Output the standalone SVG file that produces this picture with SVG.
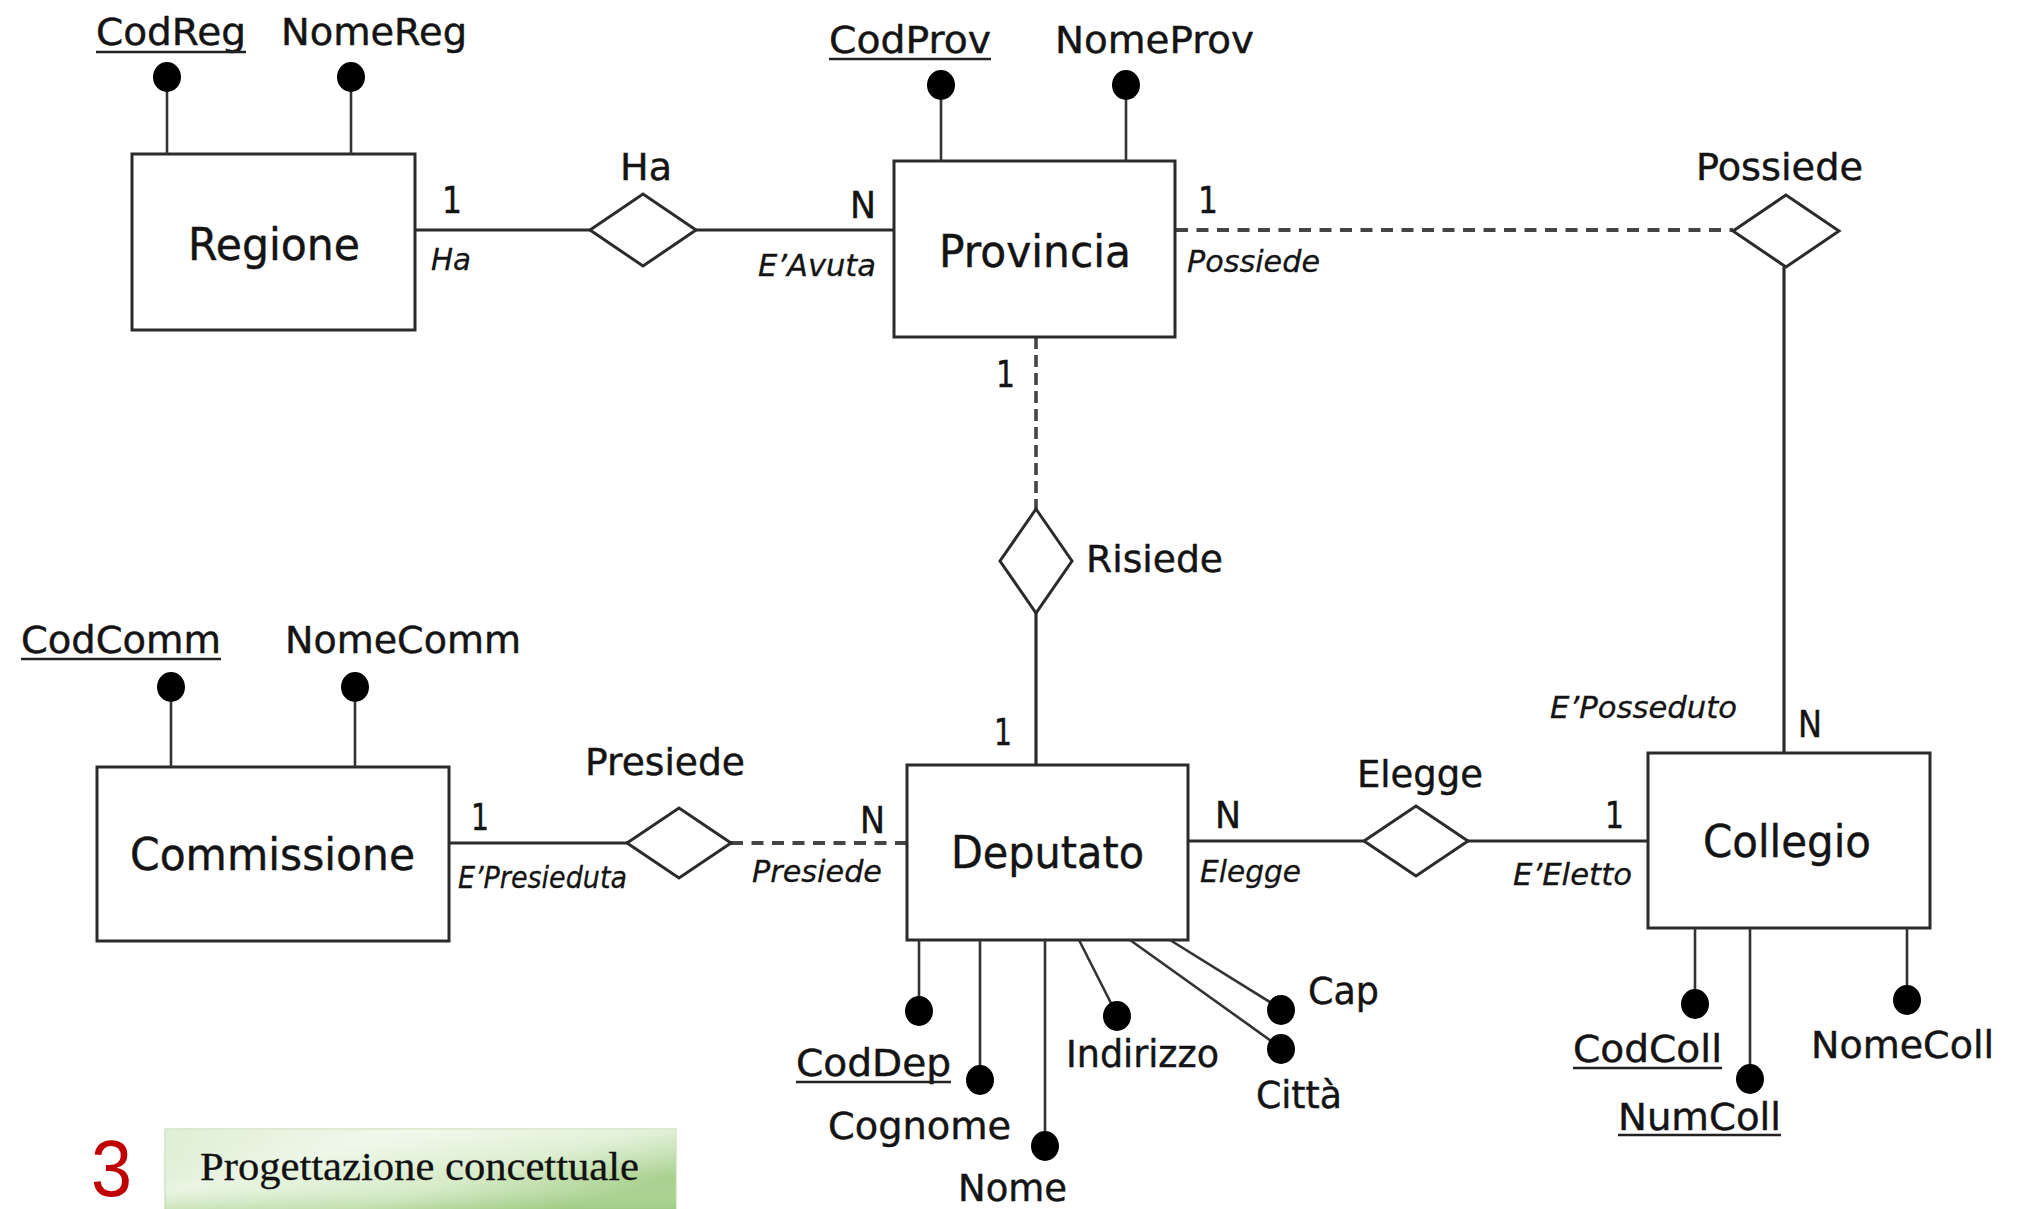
<svg xmlns="http://www.w3.org/2000/svg" width="2018" height="1209" viewBox="0 0 2018 1209">
<defs>
<style>
text{font-family:"DejaVu Sans",Verdana,"Liberation Sans",sans-serif;fill:#141414;stroke:#141414;stroke-width:0.45}
.ent{font-size:44px}
.att{font-size:37px}
.rel{font-size:38px}
.card{font-size:37px}
.role{font-size:31px;font-style:italic;stroke-width:0.3}
.box{fill:#fff;stroke:#2b2b2b;stroke-width:3}
.dia{fill:#fff;stroke:#2b2b2b;stroke-width:3}
.ln{stroke:#2b2b2b;stroke-width:3.2;fill:none}
.dash{stroke:#444;stroke-width:3.8;fill:none;stroke-dasharray:12 8.5}
.vdash{stroke:#444;stroke-width:3.6;fill:none;stroke-dasharray:12 6}
.stem{stroke:#333;stroke-width:2.6;fill:none}
.dot{fill:#000}
.ul{stroke:#222;stroke-width:2.5}
</style>
<linearGradient id="gr" x1="0" y1="0" x2="1" y2="0.6">
<stop offset="0" stop-color="#cfe6bf"/>
<stop offset="0.35" stop-color="#eaf5e3"/>
<stop offset="0.7" stop-color="#d6ebc8"/>
<stop offset="1" stop-color="#a6cf8b"/>
</linearGradient>
<linearGradient id="grv" x1="0" y1="0" x2="0" y2="1">
<stop offset="0" stop-color="#ffffff" stop-opacity="0.35"/>
<stop offset="0.6" stop-color="#ffffff" stop-opacity="0"/>
<stop offset="1" stop-color="#8fc46f" stop-opacity="0.35"/>
</linearGradient>
</defs>
<rect width="2018" height="1209" fill="#fff" stroke="none"/>

<g id="connectors">
<line class="ln" x1="415" y1="230" x2="590" y2="230"/>
<line class="ln" x1="696" y1="230" x2="894" y2="230"/>
<line class="dash" x1="1176" y1="230" x2="1733" y2="230"/>
<line class="ln" x1="1784" y1="267" x2="1784" y2="753"/>
<line class="vdash" x1="1036" y1="337" x2="1036" y2="509"/>
<line class="ln" x1="1036" y1="613" x2="1036" y2="765"/>
<line class="ln" x1="449" y1="843" x2="627" y2="843"/>
<line class="dash" x1="731" y1="843" x2="907" y2="843"/>
<line class="ln" x1="1188" y1="841" x2="1364" y2="841"/>
<line class="ln" x1="1468" y1="841" x2="1648" y2="841"/>
<text class="card" x="442" y="213" textLength="20" lengthAdjust="spacingAndGlyphs">1</text>
<text class="role" x="431" y="270" textLength="40" lengthAdjust="spacingAndGlyphs">Ha</text>
<text class="card" x="850" y="218" textLength="26" lengthAdjust="spacingAndGlyphs">N</text>
<text class="role" x="758" y="276" textLength="118" lengthAdjust="spacingAndGlyphs">E’Avuta</text>
<text class="card" x="1198" y="213" textLength="20" lengthAdjust="spacingAndGlyphs">1</text>
<text class="role" x="1187" y="272" textLength="133" lengthAdjust="spacingAndGlyphs">Possiede</text>
<text class="card" x="996" y="387" textLength="19" lengthAdjust="spacingAndGlyphs">1</text>
<text class="card" x="994" y="745" textLength="18" lengthAdjust="spacingAndGlyphs">1</text>
<text class="role" x="1550" y="718" textLength="187" lengthAdjust="spacingAndGlyphs">E’Posseduto</text>
<text class="card" x="1798" y="737" textLength="24" lengthAdjust="spacingAndGlyphs">N</text>
<text class="card" x="471" y="830" textLength="18" lengthAdjust="spacingAndGlyphs">1</text>
<text class="role" x="458" y="888" textLength="169" lengthAdjust="spacingAndGlyphs">E’Presieduta</text>
<text class="role" x="752" y="882" textLength="130" lengthAdjust="spacingAndGlyphs">Presiede</text>
<text class="card" x="860" y="833" textLength="25" lengthAdjust="spacingAndGlyphs">N</text>
<text class="card" x="1215" y="828" textLength="26" lengthAdjust="spacingAndGlyphs">N</text>
<text class="role" x="1200" y="882" textLength="101" lengthAdjust="spacingAndGlyphs">Elegge</text>
<text class="card" x="1605" y="828" textLength="19" lengthAdjust="spacingAndGlyphs">1</text>
<text class="role" x="1513" y="885" textLength="119" lengthAdjust="spacingAndGlyphs">E’Eletto</text>
</g>

<g id="regione">
<rect class="box" x="132" y="154" width="283" height="176"/>
<text class="ent" x="188" y="260" textLength="172" lengthAdjust="spacingAndGlyphs">Regione</text>
</g>
<g id="attr-codreg">
<line class="stem" x1="167" y1="154" x2="167" y2="77"/>
<ellipse class="dot" cx="167" cy="77" rx="14" ry="15"/>
<text class="att" x="96" y="45" textLength="150" lengthAdjust="spacingAndGlyphs">CodReg</text>
<line class="ul" x1="96" y1="52" x2="246" y2="52"/>
</g>
<g id="attr-nomereg">
<line class="stem" x1="351" y1="154" x2="351" y2="77"/>
<ellipse class="dot" cx="351" cy="77" rx="14" ry="15"/>
<text class="att" x="281" y="45" textLength="186" lengthAdjust="spacingAndGlyphs">NomeReg</text>
</g>

<g id="rel-ha">
<polygon class="dia" points="590,230 643,194 696,230 643,266"/>
<text class="rel" x="620" y="180" textLength="52" lengthAdjust="spacingAndGlyphs">Ha</text>
</g>

<g id="provincia">
<rect class="box" x="894" y="161" width="281" height="176"/>
<text class="ent" x="939" y="267" textLength="192" lengthAdjust="spacingAndGlyphs">Provincia</text>
</g>
<g id="attr-codprov">
<line class="stem" x1="941" y1="161" x2="941" y2="85"/>
<ellipse class="dot" cx="941" cy="85" rx="14" ry="15"/>
<text class="att" x="829" y="53" textLength="162" lengthAdjust="spacingAndGlyphs">CodProv</text>
<line class="ul" x1="829" y1="59" x2="991" y2="59"/>
</g>
<g id="attr-nomeprov">
<line class="stem" x1="1126" y1="161" x2="1126" y2="85"/>
<ellipse class="dot" cx="1126" cy="85" rx="14" ry="15"/>
<text class="att" x="1055" y="53" textLength="199" lengthAdjust="spacingAndGlyphs">NomeProv</text>
</g>

<g id="rel-possiede">
<polygon class="dia" points="1733,231 1786,195 1839,231 1786,267"/>
<text class="rel" x="1696" y="180" textLength="167" lengthAdjust="spacingAndGlyphs">Possiede</text>
</g>

<g id="rel-risiede">
<polygon class="dia" points="1036,509 1072,561 1036,613 1000,561"/>
<text class="rel" x="1086" y="572" textLength="137" lengthAdjust="spacingAndGlyphs">Risiede</text>
</g>

<g id="commissione">
<rect class="box" x="97" y="767" width="352" height="174"/>
<text class="ent" x="130" y="870" textLength="285" lengthAdjust="spacingAndGlyphs">Commissione</text>
</g>
<g id="attr-codcomm">
<line class="stem" x1="171" y1="767" x2="171" y2="687"/>
<ellipse class="dot" cx="171" cy="687" rx="14" ry="15"/>
<text class="att" x="21" y="653" textLength="200" lengthAdjust="spacingAndGlyphs">CodComm</text>
<line class="ul" x1="21" y1="659" x2="221" y2="659"/>
</g>
<g id="attr-nomecomm">
<line class="stem" x1="355" y1="767" x2="355" y2="687"/>
<ellipse class="dot" cx="355" cy="687" rx="14" ry="15"/>
<text class="att" x="285" y="653" textLength="236" lengthAdjust="spacingAndGlyphs">NomeComm</text>
</g>

<g id="rel-presiede">
<polygon class="dia" points="627,843 679,808 731,843 679,878"/>
<text class="rel" x="585" y="775" textLength="160" lengthAdjust="spacingAndGlyphs">Presiede</text>
</g>

<g id="deputato">
<rect class="box" x="907" y="765" width="281" height="175"/>
<text class="ent" x="951" y="868" textLength="193" lengthAdjust="spacingAndGlyphs">Deputato</text>
</g>
<g id="attr-coddep">
<line class="stem" x1="919" y1="940" x2="919" y2="1010"/>
<ellipse class="dot" cx="919" cy="1011" rx="14" ry="15"/>
<text class="att" x="796" y="1076" textLength="155" lengthAdjust="spacingAndGlyphs">CodDep</text>
<line class="ul" x1="796" y1="1082" x2="951" y2="1082"/>
</g>
<g id="attr-cognome">
<line class="stem" x1="980" y1="940" x2="980" y2="1079"/>
<ellipse class="dot" cx="980" cy="1080" rx="14" ry="15"/>
<text class="att" x="828" y="1139" textLength="183" lengthAdjust="spacingAndGlyphs">Cognome</text>
</g>
<g id="attr-nome">
<line class="stem" x1="1045" y1="940" x2="1045" y2="1146"/>
<ellipse class="dot" cx="1045" cy="1146" rx="14" ry="15"/>
<text class="att" x="958" y="1201" textLength="109" lengthAdjust="spacingAndGlyphs">Nome</text>
</g>
<g id="attr-indirizzo">
<line class="stem" x1="1079" y1="940" x2="1117" y2="1015"/>
<ellipse class="dot" cx="1117" cy="1016" rx="14" ry="15"/>
<text class="att" x="1066" y="1067" textLength="153" lengthAdjust="spacingAndGlyphs">Indirizzo</text>
</g>
<g id="attr-citta">
<line class="stem" x1="1130" y1="940" x2="1281" y2="1048"/>
<ellipse class="dot" cx="1281" cy="1049" rx="14" ry="15"/>
<text class="att" x="1256" y="1108" textLength="86" lengthAdjust="spacingAndGlyphs">Città</text>
</g>
<g id="attr-cap">
<line class="stem" x1="1170" y1="940" x2="1281" y2="1009"/>
<ellipse class="dot" cx="1281" cy="1010" rx="14" ry="15"/>
<text class="att" x="1308" y="1004" textLength="71" lengthAdjust="spacingAndGlyphs">Cap</text>
</g>

<g id="rel-elegge">
<polygon class="dia" points="1364,841 1416,806 1468,841 1416,876"/>
<text class="rel" x="1357" y="787" textLength="126" lengthAdjust="spacingAndGlyphs">Elegge</text>
</g>

<g id="collegio">
<rect class="box" x="1648" y="753" width="282" height="175"/>
<text class="ent" x="1703" y="857" textLength="168" lengthAdjust="spacingAndGlyphs">Collegio</text>
</g>
<g id="attr-codcoll">
<line class="stem" x1="1695" y1="928" x2="1695" y2="1003"/>
<ellipse class="dot" cx="1695" cy="1004" rx="14" ry="15"/>
<text class="att" x="1573" y="1062" textLength="149" lengthAdjust="spacingAndGlyphs">CodColl</text>
<line class="ul" x1="1573" y1="1068" x2="1722" y2="1068"/>
</g>
<g id="attr-numcoll">
<line class="stem" x1="1750" y1="928" x2="1750" y2="1078"/>
<ellipse class="dot" cx="1750" cy="1079" rx="14" ry="15"/>
<text class="att" x="1618" y="1130" textLength="163" lengthAdjust="spacingAndGlyphs">NumColl</text>
<line class="ul" x1="1618" y1="1135" x2="1781" y2="1135"/>
</g>
<g id="attr-nomecoll">
<line class="stem" x1="1907" y1="928" x2="1907" y2="999"/>
<ellipse class="dot" cx="1907" cy="1000" rx="14" ry="15"/>
<text class="att" x="1811" y="1058" textLength="183" lengthAdjust="spacingAndGlyphs">NomeColl</text>
</g>

<g id="footer">
<text x="91" y="1196" style="font-family:'Liberation Sans',Arial,sans-serif;font-size:80px;fill:#c00000;stroke:none" textLength="41" lengthAdjust="spacingAndGlyphs">3</text>
<rect x="165" y="1129" width="511" height="82" fill="url(#gr)" stroke="#b9d6a5" stroke-width="1"/>
<rect x="165" y="1129" width="511" height="82" fill="url(#grv)" stroke="none"/>
<text x="200" y="1180" style="font-family:'Liberation Serif','Times New Roman',serif;font-size:40px;fill:#111;stroke:#111;stroke-width:0.3" textLength="439" lengthAdjust="spacingAndGlyphs">Progettazione concettuale</text>
</g>
</svg>
